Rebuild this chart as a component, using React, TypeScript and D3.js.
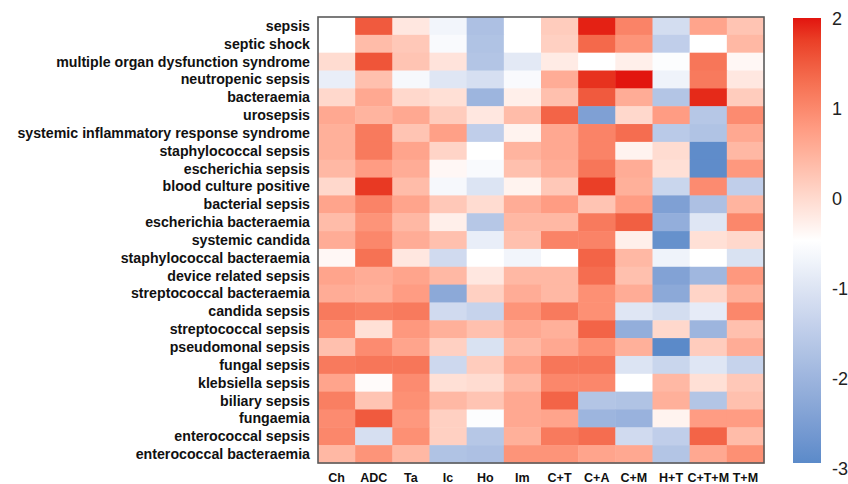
import React from "react";
import * as d3 from "d3";

const rows: string[] = [
  "sepsis",
  "septic shock",
  "multiple organ dysfunction syndrome",
  "neutropenic sepsis",
  "bacteraemia",
  "urosepsis",
  "systemic inflammatory response syndrome",
  "staphylococcal sepsis",
  "escherichia sepsis",
  "blood culture positive",
  "bacterial sepsis",
  "escherichia bacteraemia",
  "systemic candida",
  "staphylococcal bacteraemia",
  "device related sepsis",
  "streptococcal bacteraemia",
  "candida sepsis",
  "streptococcal sepsis",
  "pseudomonal sepsis",
  "fungal sepsis",
  "klebsiella sepsis",
  "biliary sepsis",
  "fungaemia",
  "enterococcal sepsis",
  "enterococcal bacteraemia",
];

const columns: string[] = ["Ch", "ADC", "Ta", "Ic", "Ho", "Im", "C+T", "C+A", "C+M", "H+T", "C+T+M", "T+M"];

// values per row, in column order
const values: number[][] = [
  [-0.5, 1.5, -0.2, -0.7, -1.8, -0.5, 0.15, 1.95, 1.05, -1.2, 0.65, 0.25],
  [-0.5, 0.35, 0.2, -0.6, -1.75, -0.5, 0.1, 1.35, 0.85, -1.5, -0.5, 0.4],
  [-0.05, 1.55, 0.25, -0.15, -1.7, -0.95, -0.25, -0.5, -0.3, -0.55, 1.2, -0.4],
  [-0.85, 0.3, -0.65, -1.0, -1.15, -0.6, 0.55, 1.85, 2.0, -0.75, 1.15, -0.2],
  [0.0, 0.6, 0.0, -0.1, -2.05, -0.3, 0.3, 1.5, 0.55, -1.7, 1.9, 0.15],
  [0.6, 0.45, 0.6, 0.15, -0.2, 0.35, 1.4, -2.5, 0.0, 0.75, -1.65, 0.95],
  [0.5, 1.15, 0.25, 0.7, -1.5, -0.35, 0.6, 1.05, 1.3, -1.6, -1.75, 0.6],
  [0.5, 1.15, 0.65, 0.05, -0.5, 0.45, 0.6, 1.05, -0.35, -0.05, -2.95, 0.4],
  [0.4, 0.75, 0.55, -0.4, -0.6, 0.3, 0.55, 1.2, 0.55, -0.1, -2.95, 0.8],
  [0.0, 1.8, 0.35, -0.65, -1.05, -0.35, 0.2, 1.75, 0.5, -1.35, 0.95, -1.5],
  [0.65, 1.05, 0.65, 0.2, -0.05, 0.55, 0.75, 0.25, 0.75, -2.5, -1.8, 0.45],
  [0.35, 0.85, 0.4, -0.3, -1.65, 0.4, 0.4, 1.15, 1.45, -2.2, -1.0, 1.0],
  [0.55, 1.0, 0.55, 0.3, -0.85, 0.3, 1.05, 1.05, -0.3, -2.85, -0.1, 0.0],
  [-0.4, 1.25, -0.2, -1.25, -0.5, -0.7, -0.5, 1.4, 0.4, -0.75, -0.5, -1.1],
  [0.65, 0.55, 0.65, 0.4, -0.2, 0.4, 0.4, 1.3, 0.3, -2.45, -2.0, 0.8],
  [0.55, 0.5, 0.75, -2.3, 0.1, 0.55, 0.4, 0.9, 0.55, -2.3, 0.05, 0.5],
  [1.15, 1.1, 1.15, -1.25, -1.4, 0.85, 1.15, 0.9, -1.0, -1.2, -0.9, 1.0],
  [0.9, -0.1, 0.8, 0.5, 0.3, 0.6, 0.5, 1.4, -2.2, 0.0, -2.05, 0.3],
  [0.3, 0.95, 0.65, 0.1, -1.1, 0.4, 0.6, 0.9, 0.5, -3.0, 0.15, 0.55],
  [1.15, 1.2, 1.2, -1.3, 0.15, 0.65, 1.2, 1.2, -1.05, -1.35, -1.0, -1.4],
  [0.65, -0.45, 0.95, -0.1, -0.05, 0.4, 1.0, 1.0, -0.5, 0.4, -0.1, 0.2],
  [1.1, 0.25, 0.9, 0.4, 0.25, 0.6, 1.4, -1.7, -1.75, 0.5, -1.7, 0.3],
  [0.95, 1.5, 0.8, 0.1, -0.55, 0.6, 0.65, -2.05, -2.1, -0.35, 0.75, 0.75],
  [1.0, -1.15, 0.9, 0.1, -1.65, 0.5, 1.15, 1.3, -1.25, -1.5, 1.4, 0.35],
  [0.4, 0.85, 0.4, -1.75, -1.8, 0.85, 0.85, 0.65, 0.6, -1.7, 0.6, 0.9],
];

const legendTicks: number[] = [2, 1, 0, -1, -2, -3];

const colorDomain = [-3, -0.5, 2];
const colorRange = ["#5b8ac9", "#ffffff", "#e2150f"];

export default function App() {
  const W = 848;
  const H = 484;
  const left = 318;
  const right = 764;
  const top = 17;
  const bottom = 463;

  const x = d3.scaleBand<string>().domain(columns).range([left, right]);
  const y = d3.scaleBand<string>().domain(rows).range([top, bottom]);
  const color = d3
    .scaleLinear<string>()
    .domain(colorDomain)
    .range(colorRange)
    .interpolate(d3.interpolateLab);

  const barX = 793;
  const barW = 28;
  const barTop = 18;
  const barBottom = 463;
  const barScale = d3.scaleLinear().domain([2, -3]).range([barTop, barBottom]);
  const labelScale = d3.scaleLinear().domain([2, -3]).range([18.5, 469]);
  const stops = d3.range(0, 21).map((i) => {
    const v = 2 - (5 * i) / 20;
    return { offset: (barScale(v) - barTop) / (barBottom - barTop), color: color(v) };
  });

  const font = "'Liberation Sans', Arial, Helvetica, sans-serif";

  return (
    <svg
      width={W}
      height={H}
      style={{ position: "absolute", left: 0, top: 0, background: "#fff" }}
      fontFamily={font}
    >
      <defs>
        <linearGradient id="cbar" x1="0" y1="0" x2="0" y2="1">
          {stops.map((s, i) => (
            <stop key={i} offset={s.offset} stopColor={s.color} />
          ))}
        </linearGradient>
      </defs>
      <rect x={0} y={0} width={W} height={H} fill="#fff" />
      <g>
        {values.map((row, ri) =>
          row.map((v, ci) => (
            <rect
              key={`${ri}-${ci}`}
              x={x(columns[ci])!}
              y={y(rows[ri])!}
              width={x.bandwidth() + 0.5}
              height={y.bandwidth() + 0.5}
              fill={color(v)}
            />
          ))
        )}
      </g>
      <rect
        x={left}
        y={top}
        width={right - left}
        height={bottom - top}
        fill="none"
        stroke="#5a5a5a"
        strokeWidth={1.6}
      />
      <g>
        {rows.map((r) => (
          <text
            key={r}
            x={310}
            y={y(r)! + y.bandwidth() / 2}
            dy="0.35em"
            textAnchor="end"
            fontSize={14.2}
            fontWeight="bold"
            fill="#111"
          >
            {r}
          </text>
        ))}
      </g>
      <g>
        {columns.map((c) => (
          <text
            key={c}
            x={x(c)! + x.bandwidth() / 2}
            y={482}
            textAnchor="middle"
            fontSize={12.5}
            fontWeight="bold"
            fill="#111"
          >
            {c}
          </text>
        ))}
      </g>
      <rect x={barX} y={barTop} width={barW} height={barBottom - barTop} fill="url(#cbar)" />
      <g>
        {legendTicks.map((t) => (
          <text
            key={t}
            x={832}
            y={labelScale(t)}
            dy="0.35em"
            textAnchor="start"
            fontSize={18}
            fill="#222"
          >
            {t}
          </text>
        ))}
      </g>
    </svg>
  );
}
